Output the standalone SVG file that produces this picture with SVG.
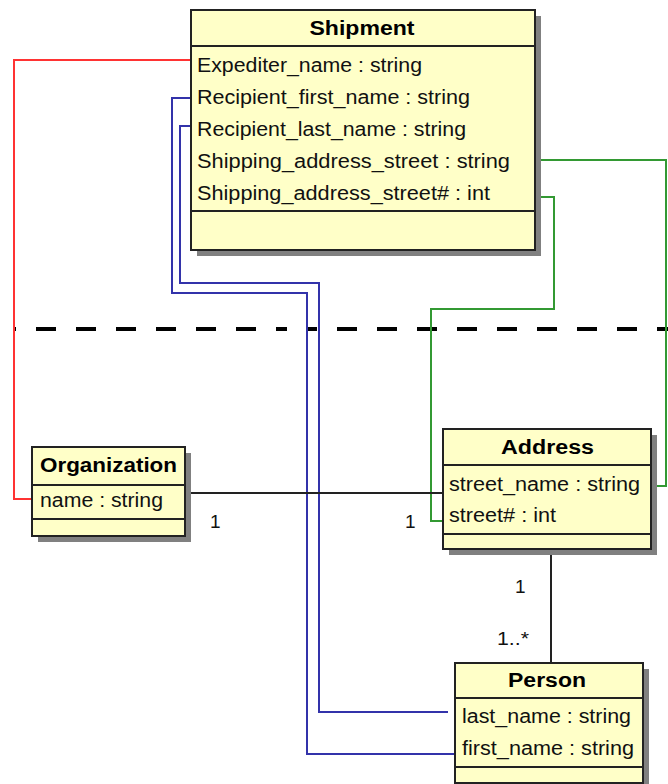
<svg xmlns="http://www.w3.org/2000/svg" width="668" height="784" viewBox="0 0 668 784">
  <style>
    .shadow { fill: #808080; }
    .box { fill: #ffffc8; stroke: #222; stroke-width: 2; }
    .sep { stroke: #222; stroke-width: 2; }
    .title { font-family: "Liberation Sans", Arial, sans-serif; font-size: 20px; font-weight: bold; fill: #000; text-anchor: middle; }
    .attr { font-family: "Liberation Sans", Arial, sans-serif; font-size: 20px; fill: #111; }
    .mult { font-family: "Liberation Sans", Arial, sans-serif; font-size: 19px; fill: #111; }
    .assoc { fill: none; stroke: #222; stroke-width: 2; }
    .red { fill: none; stroke: #ff3333; stroke-width: 2; }
    .blue { fill: none; stroke: #3333aa; stroke-width: 2; }
    .green { fill: none; stroke: #339933; stroke-width: 2; }
    .divider { fill: none; stroke: #000; stroke-width: 4; stroke-dasharray: 20 20; }
  </style>

  <!-- layer boundary -->
  <g id="divider">
    <line class="divider" x1="13" y1="329" x2="287" y2="329" stroke-dashoffset="17"/>
    <line class="divider" x1="306" y1="329" x2="668" y2="329" stroke-dashoffset="9"/>
  </g>

  <!-- connectors -->
  <g id="connectors">
    <!-- Expediter_name -> Organization.name -->
    <polyline class="red" points="191,60 14,60 14,499 32,499"/>
    <!-- Recipient_first_name -> Person.first_name -->
    <polyline class="blue" points="191,98 172,98 172,293 307,293 307,754 455,754"/>
    <!-- Recipient_last_name -> Person.last_name -->
    <polyline class="blue" points="191,126 180,126 180,283 319,283 319,712 448,712"/>
    <!-- Shipping_address_street -> Address.street_name -->
    <polyline class="green" points="536,160 666,160 666,486 651,486"/>
    <!-- Shipping_address_street# -> Address.street# -->
    <polyline class="green" points="536,197 554,197 554,309 431,309 431,521 443,521"/>
    <!-- Organization - Address -->
    <line class="assoc" x1="185" y1="493" x2="443" y2="493"/>
    <!-- Address - Person -->
    <line class="assoc" x1="551" y1="549" x2="551" y2="663"/>
    <text class="mult" x="210" y="528">1</text>
    <text class="mult" x="405" y="528">1</text>
    <text class="mult" x="515" y="593">1</text>
    <text class="mult" x="497" y="645" textLength="32" lengthAdjust="spacingAndGlyphs">1..*</text>
  </g>

  <!-- Shipment -->
  <g id="Shipment">
    <rect class="shadow" x="197" y="16" width="344" height="240"/>
    <rect class="box" x="191" y="10" width="344" height="240"/>
    <line class="sep" x1="191" y1="46" x2="535" y2="46"/>
    <line class="sep" x1="191" y1="211" x2="535" y2="211"/>
    <text class="title" x="362" y="35" textLength="105" lengthAdjust="spacingAndGlyphs">Shipment</text>
    <text class="attr" x="197" y="72" textLength="225" lengthAdjust="spacingAndGlyphs">Expediter_name : string</text>
    <text class="attr" x="197" y="104" textLength="273" lengthAdjust="spacingAndGlyphs">Recipient_first_name : string</text>
    <text class="attr" x="197" y="136" textLength="269" lengthAdjust="spacingAndGlyphs">Recipient_last_name : string</text>
    <text class="attr" x="197" y="168" textLength="313" lengthAdjust="spacingAndGlyphs">Shipping_address_street : string</text>
    <text class="attr" x="197" y="200" textLength="293" lengthAdjust="spacingAndGlyphs">Shipping_address_street# : int</text>
  </g>

  <!-- Organization -->
  <g id="Organization">
    <rect class="shadow" x="38" y="453" width="153" height="89"/>
    <rect class="box" x="32" y="447" width="153" height="89"/>
    <line class="sep" x1="32" y1="485" x2="185" y2="485"/>
    <line class="sep" x1="32" y1="519" x2="185" y2="519"/>
    <text class="title" x="108.5" y="472" textLength="137" lengthAdjust="spacingAndGlyphs">Organization</text>
    <text class="attr" x="40" y="507" textLength="123" lengthAdjust="spacingAndGlyphs">name : string</text>
  </g>

  <!-- Address -->
  <g id="Address">
    <rect class="shadow" x="449" y="435" width="208" height="120"/>
    <rect class="box" x="443" y="429" width="208" height="120"/>
    <line class="sep" x1="443" y1="465" x2="651" y2="465"/>
    <line class="sep" x1="443" y1="534" x2="651" y2="534"/>
    <text class="title" x="547.5" y="454" textLength="93" lengthAdjust="spacingAndGlyphs">Address</text>
    <text class="attr" x="449" y="491" textLength="191" lengthAdjust="spacingAndGlyphs">street_name : string</text>
    <text class="attr" x="449" y="522" textLength="107" lengthAdjust="spacingAndGlyphs">street# : int</text>
  </g>

  <!-- Person -->
  <g id="Person">
    <rect class="shadow" x="461" y="669" width="188" height="120"/>
    <rect class="box" x="455" y="663" width="188" height="120"/>
    <line class="sep" x1="455" y1="698" x2="643" y2="698"/>
    <line class="sep" x1="455" y1="767" x2="643" y2="767"/>
    <text class="title" x="547" y="687" textLength="78" lengthAdjust="spacingAndGlyphs">Person</text>
    <text class="attr" x="462" y="723" textLength="169" lengthAdjust="spacingAndGlyphs">last_name : string</text>
    <text class="attr" x="462" y="755" textLength="172" lengthAdjust="spacingAndGlyphs">first_name : string</text>
  </g>
</svg>
